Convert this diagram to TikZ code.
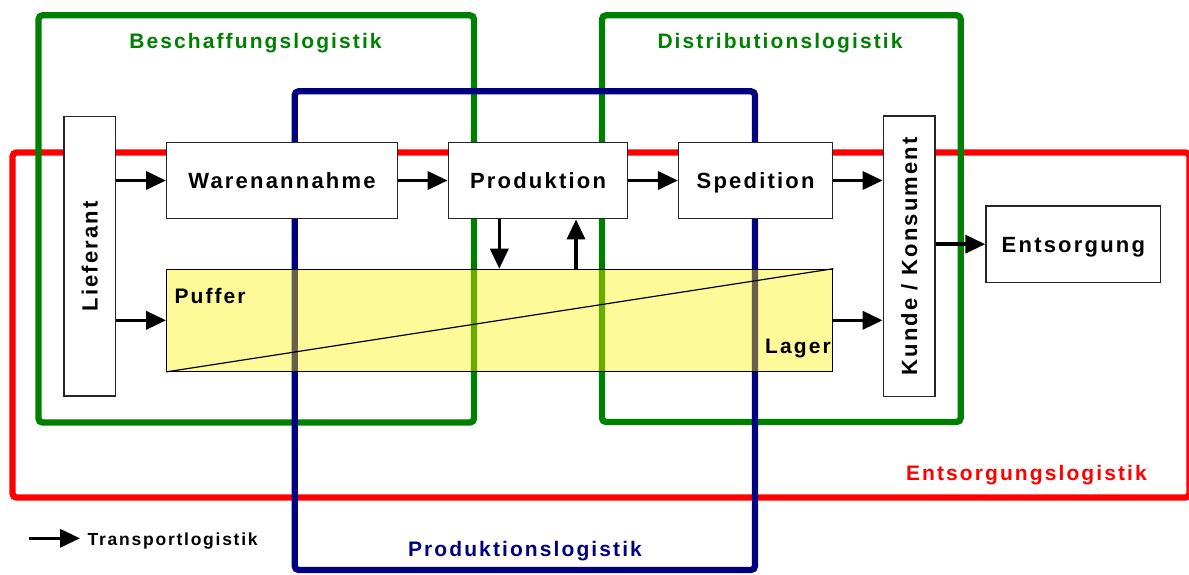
\documentclass[tikz,border=0pt]{standalone}
\usepackage{fontspec}
\setmainfont{Liberation Sans}[LetterSpace=10]
\usetikzlibrary{arrows.meta}
\definecolor{gfr}{HTML}{008000}
\definecolor{bfr}{HTML}{000080}
\definecolor{rfr}{HTML}{FF0000}
\begin{document}
\begin{tikzpicture}[x=1pt,y=-1pt,
  frame/.style={line width=6.3pt, rounded corners=4pt},
  box/.style={draw=black!85, line width=1.4pt, fill=white, inner sep=0pt},
  lbl/.style={font=\fontsize{22}{26}\selectfont\bfseries, inner sep=0pt, text height=15.75pt, text depth=0pt},
  ttl/.style={font=\fontsize{21}{25}\selectfont\bfseries, inner sep=0pt, anchor=base},
  arr/.style={line width=3.6pt, -{Triangle[length=20pt,width=18pt]}},
]
\useasboundingbox (0,0) rectangle (1189,574);

% frames
\draw[frame, rfr] (12.5,152.5) rectangle (1189.5,497.5);
\draw[frame, gfr] (38.5,15.3) rectangle (474,422.5);
\draw[frame, gfr] (602,15.3) rectangle (960.7,422);
\draw[frame, bfr] (294.7,91.3) rectangle (755,570);

% titles
\node[ttl, text=gfr] (tb) at (255.5,48.3) {Beschaffungslogistik};
\node[ttl, text=gfr] (td) at (780,48.3) {Distributionslogistik};
\node[ttl, text=rfr, anchor=base east] (te) at (1147,480) {Entsorgungslogistik};
\node[ttl, text=bfr] (tp) at (525,556.7) {Produktionslogistik};

% boxes
\node[box, minimum width=51.7pt, minimum height=279.3pt] (lief) at (89.85,256.35) {};
\node[lbl, rotate=90] (lieft) at (lief) {Lieferant};
\node[box, minimum width=230.6pt, minimum height=76.4pt] (war) at (282,180.5) {};
\node[lbl] (wart) at (war) {Warenannahme};
\node[box, minimum width=179.4pt, minimum height=76.4pt] (prod) at (538,180.5) {};
\node[lbl] (prodt) at (prod) {Produktion};
\node[box, minimum width=154pt, minimum height=76.4pt] (sped) at (755.6,180.5) {};
\node[lbl] (spedt) at (sped) {Spedition};
\node[box, minimum width=51.7pt, minimum height=280.7pt] (kunde) at (909.15,256.35) {};
\node[lbl, rotate=90] (kundet) at (kunde) {Kunde / Konsument};
\node[box, minimum width=174.7pt, minimum height=76.3pt] (ents) at (1073.35,244.15) {};
\node[lbl] (entst) at (ents) {Entsorgung};

% Puffer / Lager
\node[draw=black, line width=1.2pt, fill=yellow, fill opacity=0.4, draw opacity=1,
      minimum width=666pt, minimum height=102pt, inner sep=0pt] (lager) at (499.7,320.3) {};
\draw[line width=1.2pt] (lager.south west) -- (lager.north east);
\node[ttl, anchor=base west] (puft) at (174.3,303.3) {Puffer};
\node[ttl, anchor=base east] (lagt) at (831,353.3) {Lager};

% transport arrows
\draw[arr] (lief.east |- war.west) -- (war.west);
\draw[arr] (war.east) -- (prod.west);
\draw[arr] (prod.east) -- (sped.west);
\draw[arr] (sped.east) -- (sped.east -| kunde.west);
\draw[arr] (lief.east |- lager.west) -- (lager.west);
\draw[arr] (lager.east) -- (lager.east -| kunde.west);
\draw[arr] (kunde.east |- ents.west) -- (ents.west);
\coordinate (dn) at ([xshift=-38.7pt]prod.south);
\coordinate (up) at ([xshift=38pt]prod.south);
\draw[arr] (dn) -- (dn |- lager.north);
\draw[arr] (up |- lager.north) -- (up);

% legend
\coordinate (lg) at (29,538.3);
\node[font=\fontsize{17.5}{20}\selectfont\bfseries, inner sep=0pt, anchor=base west] (tl) at (87.5,545.3) {Transportlogistik};
\draw[arr, shorten >=7.5pt] (lg) -- (lg -| tl.base west);
\end{tikzpicture}
\end{document}
